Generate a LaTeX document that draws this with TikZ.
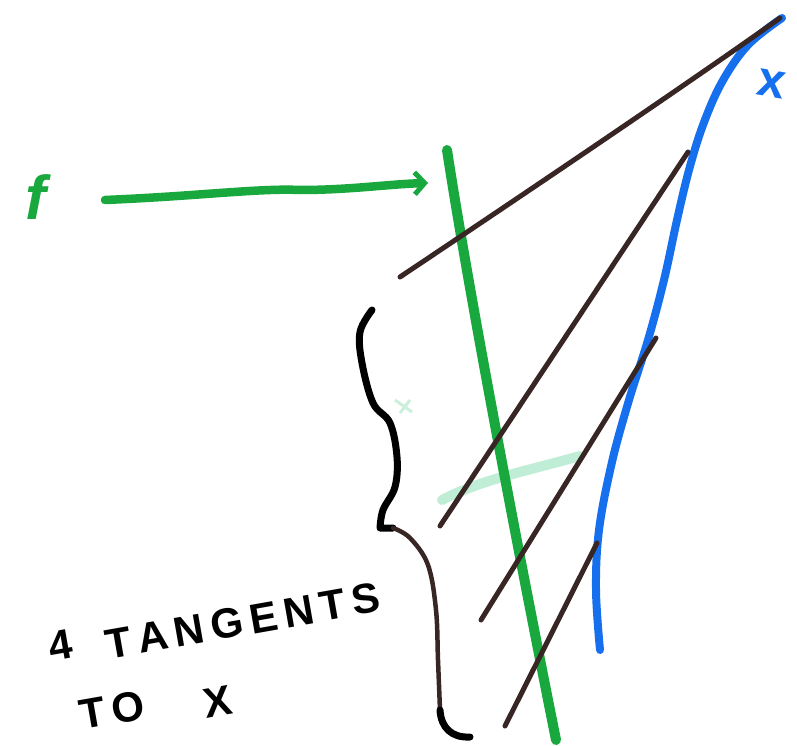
\documentclass[tikz,border=0pt]{standalone}
\usepackage{fontspec}
\setmainfont{Liberation Sans}
\usetikzlibrary{arrows.meta}
\definecolor{pengreen}{RGB}{24,168,62}
\definecolor{penblue}{RGB}{22,112,238}
\definecolor{penbrown}{RGB}{56,38,36}
\definecolor{smear}{RGB}{150,225,185}
\tikzset{
  tangent/.style={draw=penbrown, line width=5pt, line cap=round},
  bracepen/.style={draw=black, line width=7pt, line cap=round, line join=round},
  hand/.style={inner sep=0pt, font=\bfseries\fontsize{42}{42}\selectfont\addfontfeature{LetterSpace=16,Kerning=Off}, rotate=10},
}
\begin{document}
\begin{tikzpicture}[x=1pt,y=-1pt]
\useasboundingbox (0,0) rectangle (797,746);
% labels
\node[inner sep=0pt, text=pengreen, font=\itshape\bfseries\fontsize{62}{62}\selectfont] (f) at (36,197) {f};
\node[inner sep=0pt, text=penblue, font=\bfseries\fontsize{50}{50}\selectfont, rotate=-10] (xl) at (771,84) {x};
\node[hand] (w4) at (60,645) {4};
\node[hand] (wtan) at (243,621) {TANGENTS};
\node[hand] (wto) at (112,710) {TO};
\node[hand] (wx) at (218,702) {X};
% coordinates
\coordinate (as) at (105,200);
\coordinate (ae) at (428,183);
\coordinate (gt) at (447,150);
\coordinate (gb) at (556,740);
% faint smears
\draw[smear, line width=10pt, line cap=round, opacity=0.6] (442,500) .. controls (480,480) and (530,470) .. (580,456);
\draw[smear, line width=3pt, opacity=0.5] (395,400) -- (412,412) (400,413) -- (410,400);
% green arrow
\draw[pengreen, line width=8.5pt, line cap=round, -{Straight Barb[length=10pt,width=22pt,line width=5pt]}]
  (as) .. controls (200,196) and (260,188) .. (300,190) .. controls (350,190) and (390,184) .. (ae);
% green line
\draw[pengreen, line width=10pt, line cap=round] (gt) .. controls (470,300) and (520,560) .. (gb);
% blue curve X
\draw[penblue, line width=8pt, line cap=round, line join=round]
  plot[smooth, tension=0.6] coordinates {(782,18) (748,45) (722,82) (703,125) (689,170) (677,220) (664,280) (648,340) (629,400) (612,462) (599,530) (596,590) (600,650)};
% tangents
\coordinate (p1a) at (400,277); \coordinate (p1b) at (780,18);
\coordinate (p2a) at (440,526); \coordinate (p2b) at (688,152);
\coordinate (p3a) at (481,620); \coordinate (p3b) at (656,338);
\coordinate (p4a) at (505,726); \coordinate (p4b) at (597,543);
\draw[tangent] (p1a) .. controls (560,170) and (700,75) .. (p1b);
\draw[tangent] (p2a) -- (p2b);
\draw[tangent] (p3a) -- (p3b);
\draw[tangent] (p4a) -- (p4b);
% brace
\draw[bracepen] plot[smooth, tension=0.6] coordinates {(372,310) (360,332) (362,363) (373,403) (390,423) (397,457) (395,487) (383,510) (380,528)} -- (393,528);
\draw[penbrown, line width=4.5pt, line cap=round] plot[smooth, tension=0.6] coordinates {(393,528) (410,538) (428,565) (436,610) (438,660) (440,710)};
\draw[bracepen] (440,710) .. controls (441,728) and (452,738) .. (470,737);
\end{tikzpicture}
\end{document}
